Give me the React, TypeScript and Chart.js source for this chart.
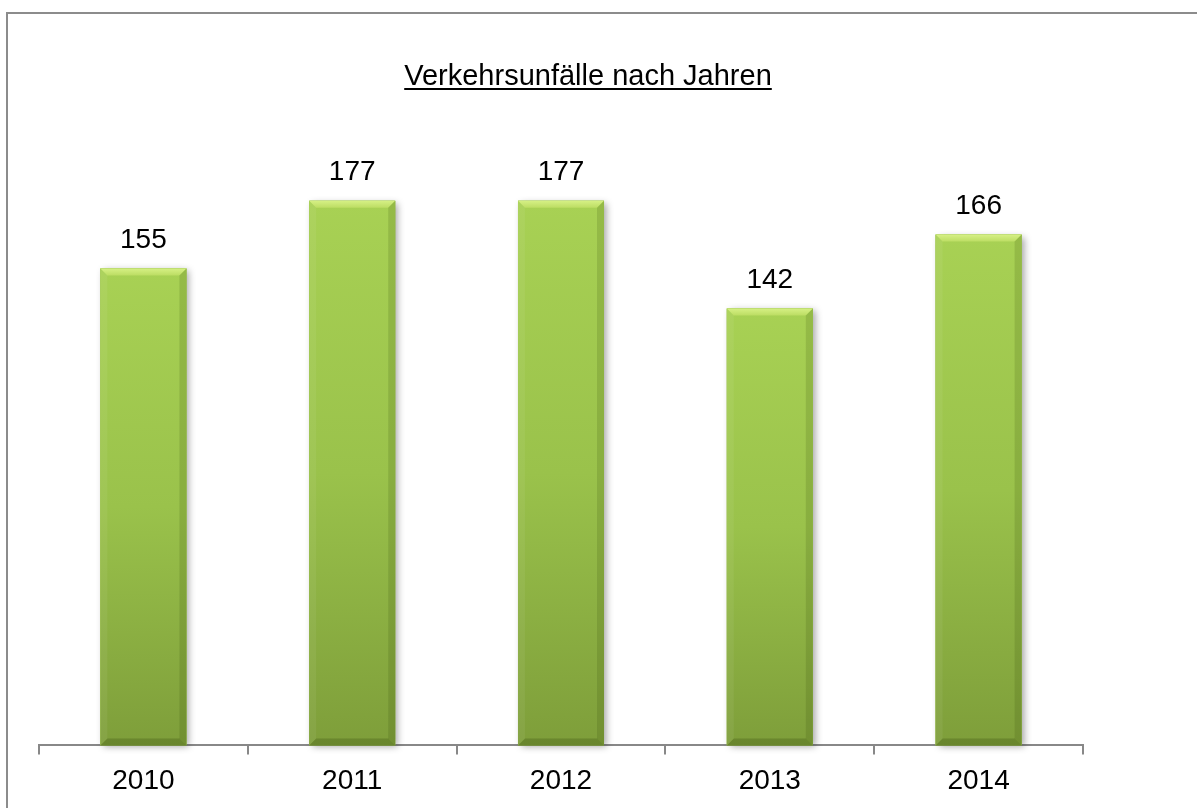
import React, { useEffect, useRef } from "react";
import { Chart, registerables } from "chart.js";

Chart.register(...registerables);

const TITLE = "Verkehrsunfälle nach Jahren";
const years: string[] = ["2010", "2011", "2012", "2013", "2014"];
const accidents: number[] = [155, 177, 177, 142, 166];
const yMin = 0;
const yMax = 200;

const FONT = "'Liberation Sans', Arial, sans-serif";

function poly(ctx: CanvasRenderingContext2D, pts: number[][], fill: string | CanvasGradient) {
  ctx.beginPath();
  ctx.moveTo(pts[0][0], pts[0][1]);
  for (let i = 1; i < pts.length; i++) ctx.lineTo(pts[i][0], pts[i][1]);
  ctx.closePath();
  ctx.fillStyle = fill;
  ctx.fill();
}

const bevelPlugin = {
  id: "bevelBars",
  beforeDatasetsDraw(chart: any) {
    const ctx: CanvasRenderingContext2D = chart.ctx;
    const meta = chart.getDatasetMeta(0);
    ctx.save();
    meta.data.forEach((bar: any) => {
      const { x, y, base, width } = bar.getProps(["x", "y", "base", "width"], true);
      ctx.shadowColor = "rgba(0,0,0,0.35)";
      ctx.shadowBlur = 7;
      ctx.shadowOffsetX = 3;
      ctx.shadowOffsetY = 2;
      ctx.fillStyle = "#8fb545";
      ctx.fillRect(x - width / 2, y, width, base - y);
    });
    ctx.restore();
  },
  afterDatasetsDraw(chart: any) {
    const ctx: CanvasRenderingContext2D = chart.ctx;
    const meta = chart.getDatasetMeta(0);
    ctx.save();
    meta.data.forEach((bar: any, i: number) => {
      const { x, y, base, width } = bar.getProps(["x", "y", "base", "width"], true);
      const l = x - width / 2;
      const r = x + width / 2;
      const t = y;
      const b = base;
      const g = ctx.createLinearGradient(0, t, 0, b);
      g.addColorStop(0, "#a8d154");
      g.addColorStop(0.5, "#9ac24b");
      g.addColorStop(1, "#7e9e3a");
      ctx.fillStyle = g;
      ctx.fillRect(l, t, width, b - t);
      const s = 7;
      const tg = ctx.createLinearGradient(0, t, 0, t + s);
      tg.addColorStop(0, "#d6f085");
      tg.addColorStop(1, "#bcdd63");
      poly(ctx, [[l, t], [r, t], [r - s, t + s], [l + s, t + s]], tg);
      poly(ctx, [[l, t], [l + s, t + s], [l + s, b - s], [l, b]], "rgba(255,255,255,0.06)");
      poly(ctx, [[r, t], [r, b], [r - s, b - s], [r - s, t + s]], "rgba(40,60,0,0.15)");
      poly(ctx, [[l, b], [r, b], [r - s, b - s], [l + s, b - s]], "rgba(30,50,0,0.22)");

      ctx.fillStyle = "#000";
      ctx.font = `28px ${FONT}`;
      ctx.textAlign = "center";
      ctx.textBaseline = "middle";
      ctx.fillText(String(accidents[i]), x, t - 28);
    });
    ctx.restore();
  },
  afterDraw(chart: any) {
    const ctx: CanvasRenderingContext2D = chart.ctx;
    ctx.save();
    ctx.fillStyle = "#000";
    ctx.font = `29px ${FONT}`;
    ctx.textAlign = "center";
    ctx.textBaseline = "alphabetic";
    const cx = 588;
    const by = 85;
    ctx.fillText(TITLE, cx, by);
    const w = ctx.measureText(TITLE).width;
    ctx.fillRect(cx - w / 2, by + 3, w, 2);
    ctx.restore();
  },
};

export default function App() {
  const ref = useRef<HTMLCanvasElement | null>(null);

  useEffect(() => {
    document.body.style.margin = "0";
    if (!ref.current) return;
    const chart = new Chart(ref.current, {
      type: "bar",
      data: {
        labels: years,
        datasets: [
          {
            data: accidents,
            backgroundColor: "#9cc34c",
            borderWidth: 0,
            barPercentage: 0.412,
            categoryPercentage: 1,
          },
        ],
      },
      options: {
        animation: false,
        responsive: false,
        devicePixelRatio: 1,
        layout: { padding: { left: 39, right: 114, top: 130, bottom: 0 } },
        plugins: {
          legend: { display: false },
          tooltip: { enabled: false },
          title: { display: false },
        },
        scales: {
          x: {
            offset: true,
            grid: {
              display: true,
              offset: true,
              drawOnChartArea: false,
              drawTicks: true,
              tickLength: 9,
              color: "#888888",
              lineWidth: 2,
            },
            border: { display: true, color: "#888888", width: 2 },
            ticks: {
              color: "#000",
              font: { family: FONT, size: 28 },
              padding: 10,
            },
          },
          y: { display: false, min: yMin, max: yMax },
        },
      },
      plugins: [bevelPlugin],
    });
    return () => chart.destroy();
  }, []);

  return (
    <div
      style={{
        position: "fixed",
        left: 0,
        top: 0,
        width: 1197,
        height: 808,
        overflow: "hidden",
        background: "#fff",
      }}
    >
      <div
        style={{
          position: "absolute",
          left: 6,
          top: 12,
          width: 1400,
          height: 1000,
          borderLeft: "2px solid #8c8c8c",
          borderTop: "2px solid #8c8c8c",
        }}
      />
      <canvas
        ref={ref}
        width={1197}
        height={808}
        style={{ position: "absolute", left: 0, top: 0, width: 1197, height: 808 }}
      />
    </div>
  );
}
